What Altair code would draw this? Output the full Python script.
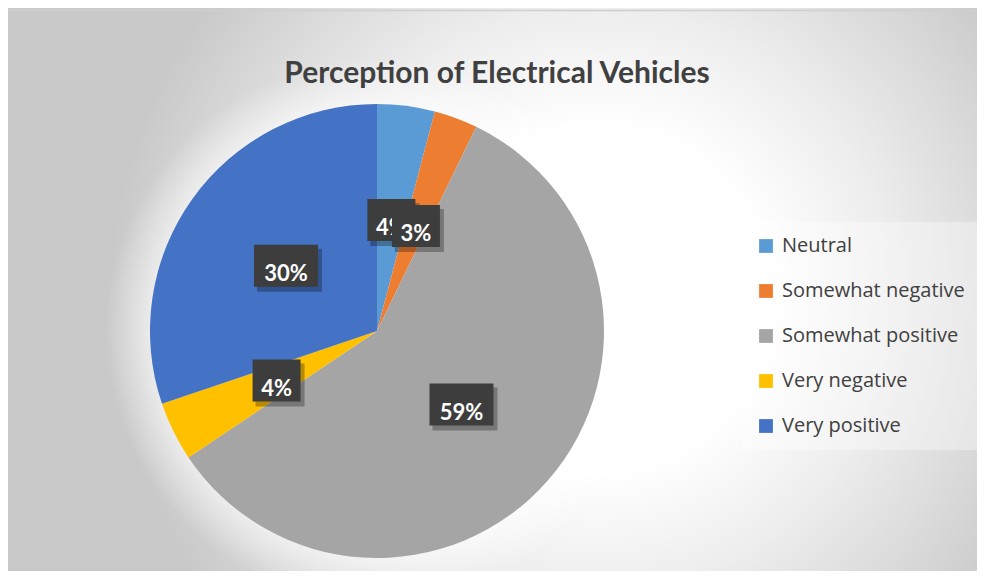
import math
import altair as alt
import pandas as pd

title_text = "Perception of Electrical Vehicles"
categories = ["Neutral", "Somewhat negative", "Somewhat positive", "Very negative", "Very positive"]
values = [4.1, 3.1, 58.4, 4.2, 30.2]
labels = ["4%", "3%", "59%", "4%", "30%"]
colors = ["#5B9BD5", "#ED7D31", "#A5A5A5", "#FFC000", "#4472C4"]
order = [0, 1, 2, 3, 4]

df = pd.DataFrame({"category": categories, "value": values, "label": labels, "order": order})
one = pd.DataFrame({"a": [0]})

W, H = 969, 563
CX, CY, R = 369, 323, 227
LR = 112
GLOW = 45
FONT = "Lato"
LFONT = "Open Sans"

color_scale = alt.Scale(domain=categories, range=colors)

# square background rect so that the radial gradient is circular
bg = alt.Chart(one).mark_rect(
    fill=alt.RadialGradient(
        gradient="radial", x1=0.605, y1=0.5, r1=0, x2=0.605, y2=0.5, r2=0.5,
        stops=[alt.GradientStop(offset=0, color="#ffffff"),
               alt.GradientStop(offset=0.35, color="#ffffff"),
               alt.GradientStop(offset=0.6, color="#ededed"),
               alt.GradientStop(offset=0.85, color="#d7d7d7"),
               alt.GradientStop(offset=1, color="#c9c9c9")]),
).encode(x=alt.value(-1), x2=alt.value(976), y=alt.value(-197), y2=alt.value(780))

frame = alt.Chart(one).mark_rect(fill=None, stroke="#cfcfcf", strokeWidth=1.5).encode(
    x=alt.value(-1), x2=alt.value(W + 5), y=alt.value(2.5), y2=alt.value(H + 10))

inner = R / (R + GLOW)
glow = alt.Chart(one).mark_arc(
    radius=R + GLOW, theta=0, theta2=2 * math.pi,
    fill=alt.RadialGradient(
        gradient="radial", x1=0.5, y1=0.5, r1=0, x2=0.5, y2=0.5, r2=0.5,
        stops=[alt.GradientStop(offset=0, color="rgba(255,255,255,0.55)"),
               alt.GradientStop(offset=inner, color="rgba(255,255,255,0.55)"),
               alt.GradientStop(offset=1, color="rgba(255,255,255,0)")]),
).encode(x=alt.value(CX), y=alt.value(CY))

pie = alt.Chart(df).mark_arc(radius=R).encode(
    theta=alt.Theta("value:Q", stack=True),
    order=alt.Order("order:Q"),
    color=alt.Color("category:N", scale=color_scale, legend=alt.Legend(
        orient="none", legendX=734, legendY=214, title=None,
        symbolType="square", symbolSize=190, symbolStrokeWidth=0,
        labelFontSize=20, labelFont=LFONT, labelColor="#404040",
        rowPadding=25, padding=14, labelOffset=6, labelLimit=300,
        fillColor="rgba(255,255,255,0.35)")),
    x=alt.value(CX), y=alt.value(CY),
)

base = alt.Chart(df).transform_window(
    cum="sum(value)", sort=[alt.SortField("order")], frame=[None, 0]
).transform_joinaggregate(total="sum(value)").transform_calculate(
    ang="2*PI*(datum.cum - datum.value/2)/datum.total",
).transform_calculate(
    bx=f"{CX} + {LR}*sin(datum.ang)",
    by=f"{CY} - {LR}*cos(datum.ang)",
    hw="8*length(datum.label)+8",
).transform_calculate(
    x1="datum.bx - datum.hw", x2="datum.bx + datum.hw",
    y1="datum.by - 21", y2="datum.by + 21",
    sx1="datum.bx - datum.hw + 3", sx2="datum.bx + datum.hw + 4",
    sy1="datum.by - 21 + 4", sy2="datum.by + 21 + 5",
    ty="datum.by + 15",
)

label_layers = []
for cat in categories:
    b = base.transform_filter(alt.datum.category == cat)
    shadow = b.mark_rect(color="#000000", opacity=0.28).encode(
        x=alt.X("sx1:Q", scale=None, axis=None), x2="sx2:Q",
        y=alt.Y("sy1:Q", scale=None, axis=None), y2="sy2:Q")
    box = b.mark_rect(color="#3d3d3d").encode(
        x=alt.X("x1:Q", scale=None, axis=None), x2="x2:Q",
        y=alt.Y("y1:Q", scale=None, axis=None), y2="y2:Q")
    txt = b.mark_text(font=FONT, fontWeight="bold", fontSize=22, color="#ffffff",
                      align="center", baseline="alphabetic").encode(
        x=alt.X("bx:Q", scale=None, axis=None),
        y=alt.Y("ty:Q", scale=None, axis=None),
        text="label:N")
    label_layers += [shadow, box, txt]

title = alt.Chart(one).mark_text(
    text=title_text, font=FONT, fontWeight="bold", fontSize=30, color="#404040",
    align="center", baseline="alphabetic",
).encode(x=alt.value(489), y=alt.value(75))

chart = alt.layer(bg, frame, glow, pie, *label_layers, title).properties(
    width=W, height=H, padding=0, autosize="none"
).configure_view(stroke=None)

chart.save("out.html", embed_options={"renderer": "svg", "actions": False})
